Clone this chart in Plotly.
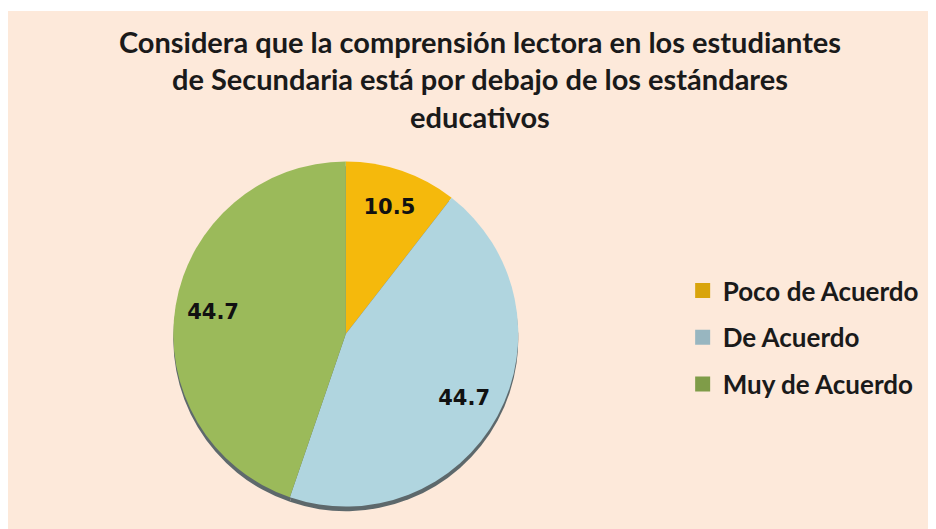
import plotly.graph_objects as go

title_text = "Considera que la comprensión lectora en los estudiantes<br>de Secundaria está por debajo de los estándares<br>educativos"
labels = ["Poco de Acuerdo", "De Acuerdo", "Muy de Acuerdo"]
values = [10.5, 44.7, 44.7]
colors = ["#F5B90C", "#B0D5DF", "#9BBA5A"]
legend_colors = ["#D9A40C", "#98B6C0", "#7F9C48"]

PIE_X = [0.178, 0.550]
PIE_Y = [0.0434, 0.7094]
SHADOW_DY = 0.009

fig = go.Figure()
# soft shadow under the pie
fig.add_trace(go.Pie(
    labels=labels, values=values, sort=False, direction="clockwise", rotation=0,
    marker=dict(colors=["#4C5B60"] * len(values), line=dict(width=0)),
    textinfo="none", hoverinfo="skip", showlegend=False, opacity=0.9,
    domain=dict(x=PIE_X, y=[PIE_Y[0] - SHADOW_DY, PIE_Y[1] - SHADOW_DY]),
))
# main pie
fig.add_trace(go.Pie(
    labels=labels, values=values, sort=False, direction="clockwise", rotation=0,
    marker=dict(colors=colors, line=dict(width=0)),
    textinfo="none", hoverinfo="label+value", showlegend=False,
    domain=dict(x=PIE_X, y=PIE_Y),
))
# transparent ring carrying the value labels near the rim
fig.add_trace(go.Pie(
    labels=labels, values=values, sort=False, direction="clockwise", rotation=0,
    hole=0.56,
    marker=dict(colors=["rgba(0,0,0,0)"] * len(values), line=dict(width=0)),
    texttemplate="%{value}", textposition="inside", insidetextorientation="horizontal",
    textfont=dict(family="DejaVu Sans", size=21, color="#111111", weight="bold"),
    hoverinfo="skip", showlegend=False,
    domain=dict(x=PIE_X, y=PIE_Y),
))
# legend entries
for name, col in zip(labels, legend_colors):
    fig.add_trace(go.Scatter(
        x=[None], y=[None], mode="markers", name=name, legendgroup=name,
        marker=dict(symbol="square", size=15, color=col), hoverinfo="skip",
    ))

fig.update_layout(
    width=928, height=521,
    margin=dict(l=0, r=0, t=3, b=0),
    paper_bgcolor="white",
    plot_bgcolor="rgba(0,0,0,0)",
    xaxis=dict(visible=False), yaxis=dict(visible=False),
    shapes=[dict(type="rect", xref="paper", yref="paper", x0=0, x1=1, y0=0, y1=1,
                 fillcolor="#FDE9DA", line=dict(width=0), layer="below")],
    title=dict(text=title_text, x=0.5086, xanchor="center", y=0.9144, yanchor="top",
               font=dict(family="Lato", size=29, color="#1a1a1a", weight="bold")),
    legend=dict(x=0.727, xanchor="left", y=0.5057, yanchor="top",
                traceorder="grouped", tracegroupgap=10,
                font=dict(family="Lato", size=26, color="#1a1a1a", weight="bold"),
                bgcolor="rgba(0,0,0,0)"),
)

fig.write_html("out.html")
